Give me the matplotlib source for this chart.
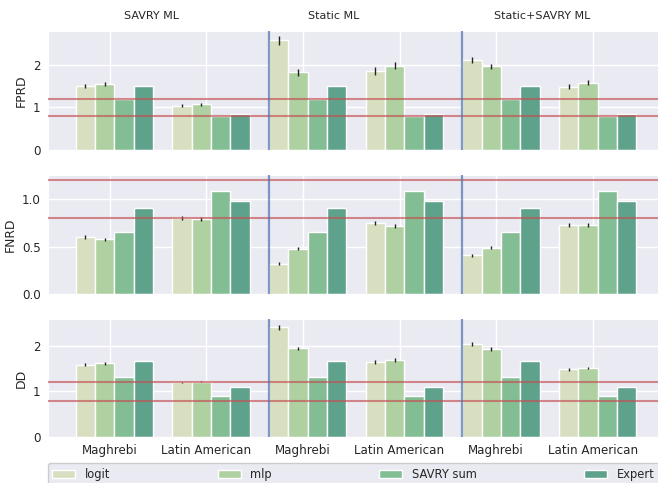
import numpy as np
import matplotlib
matplotlib.use("Agg")
import matplotlib.pyplot as plt
import seaborn as sns


GROUPS = ["Maghrebi", "Latin American"] * 3
SETTINGS = ["SAVRY ML", "Static ML", "Static+SAVRY ML"]
MODELS = ["logit", "mlp", "SAVRY sum", "Expert"]
COLORS = ["#d8dfc1", "#afd0a1", "#83bd93", "#5fa28c"]

# one value per bar group: SAVRY ML (Magh, Latin), Static ML (Magh, Latin), Static+SAVRY ML (Magh, Latin)
FPRD = {
    "logit": [1.51, 1.04, 2.57, 1.85, 2.12, 1.49],
    "mlp": [1.55, 1.07, 1.82, 1.98, 1.96, 1.58],
    "SAVRY sum": [1.20, 0.80, 1.20, 0.80, 1.20, 0.80],
    "Expert": [1.50, 0.85, 1.50, 0.85, 1.50, 0.85],
}
FPRD_ERR = {
    "logit": [0.05, 0.03, 0.10, 0.09, 0.07, 0.05],
    "mlp": [0.05, 0.03, 0.09, 0.09, 0.05, 0.06],
}

FNRD = {
    "logit": [0.60, 0.80, 0.32, 0.75, 0.41, 0.73],
    "mlp": [0.58, 0.79, 0.48, 0.72, 0.49, 0.73],
    "SAVRY sum": [0.66, 1.085, 0.66, 1.085, 0.66, 1.085],
    "Expert": [0.91, 0.98, 0.91, 0.98, 0.91, 0.98],
}
FNRD_ERR = {
    "logit": [0.02, 0.02, 0.015, 0.02, 0.015, 0.025],
    "mlp": [0.015, 0.02, 0.015, 0.02, 0.02, 0.025],
}

DD = {
    "logit": [1.58, 1.20, 2.40, 1.64, 2.03, 1.48],
    "mlp": [1.61, 1.21, 1.94, 1.69, 1.93, 1.51],
    "SAVRY sum": [1.32, 0.90, 1.32, 0.90, 1.32, 0.90],
    "Expert": [1.67, 1.10, 1.67, 1.10, 1.67, 1.10],
}
DD_ERR = {
    "logit": [0.03, 0.01, 0.06, 0.05, 0.04, 0.03],
    "mlp": [0.04, 0.01, 0.04, 0.05, 0.04, 0.03],
}

METRICS = [
    ("FPRD", FPRD, FPRD_ERR, (0, 2.8), [0, 1, 2], ["0", "1", "2"]),
    ("FNRD", FNRD, FNRD_ERR, (0, 1.26), [0, 0.5, 1.0], ["0.0", "0.5", "1.0"]),
    ("DD", DD, DD_ERR, (0, 2.58), [0, 1, 2], ["0", "1", "2"]),
]

FAIR_LOW = 0.8
FAIR_HIGH = 1.2
SECTION_LINES = [1.65, 3.65]
TITLE_X = [0.43, 2.32, 4.48]

sns.set_style("darkgrid")
plt.rcParams["font.family"] = ["DejaVu Sans"]
plt.rcParams["text.color"] = "#262626"
plt.rcParams["axes.labelcolor"] = "#262626"
plt.rcParams["xtick.color"] = "#262626"
plt.rcParams["ytick.color"] = "#262626"

fig = plt.figure(figsize=(6.58, 4.83), dpi=100)

W, H = 658.0, 483.0
left_px, right_px = 47.7, 664.4
legend_right_px = 659.0
rows_px = [(30.7, 150.0), (174.7, 294.0), (319.0, 437.3)]

x = np.arange(len(GROUPS))
width = 0.2
offsets = [-0.25, -0.05, 0.15, 0.35]

axes = []
for (top, bottom), (name, values, errors, ylim, yticks, ytl) in zip(rows_px, METRICS):
    ax = fig.add_axes([left_px / W, 1 - bottom / H, (right_px - left_px) / W, (bottom - top) / H])
    axes.append(ax)
    for model, color, off in zip(MODELS, COLORS, offsets):
        err = errors.get(model)
        ax.bar(
            x + off,
            values[model],
            width,
            color=color,
            edgecolor="white",
            linewidth=1.0,
            yerr=err,
            error_kw={"ecolor": "#222222", "elinewidth": 1.0, "capsize": 0},
            label=model,
            zorder=2,
        )
    for v in (FAIR_HIGH, FAIR_LOW):
        ax.axhline(v, color="#c44e52", alpha=0.65, linewidth=1.5, zorder=3)
    for s in SECTION_LINES:
        ax.axvline(s, color="#4c72b0", alpha=0.7, linewidth=1.6, zorder=3)

    ax.set_xlim(-0.64, 5.74)
    ax.set_ylim(*ylim)
    ax.set_yticks(yticks)
    ax.set_yticklabels(ytl, fontsize=8.6)
    ax.set_xticks(x)
    ax.set_ylabel(name, fontsize=8.9, labelpad=4)
    ax.tick_params(axis="both", length=0, pad=5)
    ax.grid(True, color="white", linewidth=1.0)
    ax.set_axisbelow(True)

for ax in axes[:-1]:
    ax.set_xticklabels([])
axes[-1].set_xticklabels(GROUPS, fontsize=8.6)

for tx, title in zip(TITLE_X, SETTINGS):
    axes[0].text(tx, 1.12, title, transform=axes[0].get_xaxis_transform(),
                 ha="center", va="center", fontsize=8)

handles, labels = axes[0].get_legend_handles_labels()
leg = fig.legend(
    handles,
    labels,
    loc="upper left",
    bbox_to_anchor=(left_px / W, 1 - 463.3 / H, (legend_right_px - left_px) / W, 0),
    mode="expand",
    ncol=4,
    borderaxespad=0,
    fontsize=8.3,
    frameon=True,
    facecolor="#eaeaf2",
    edgecolor="#cccccc",
    framealpha=1.0,
    fancybox=True,
)

fig.savefig("out.png", dpi=100)
